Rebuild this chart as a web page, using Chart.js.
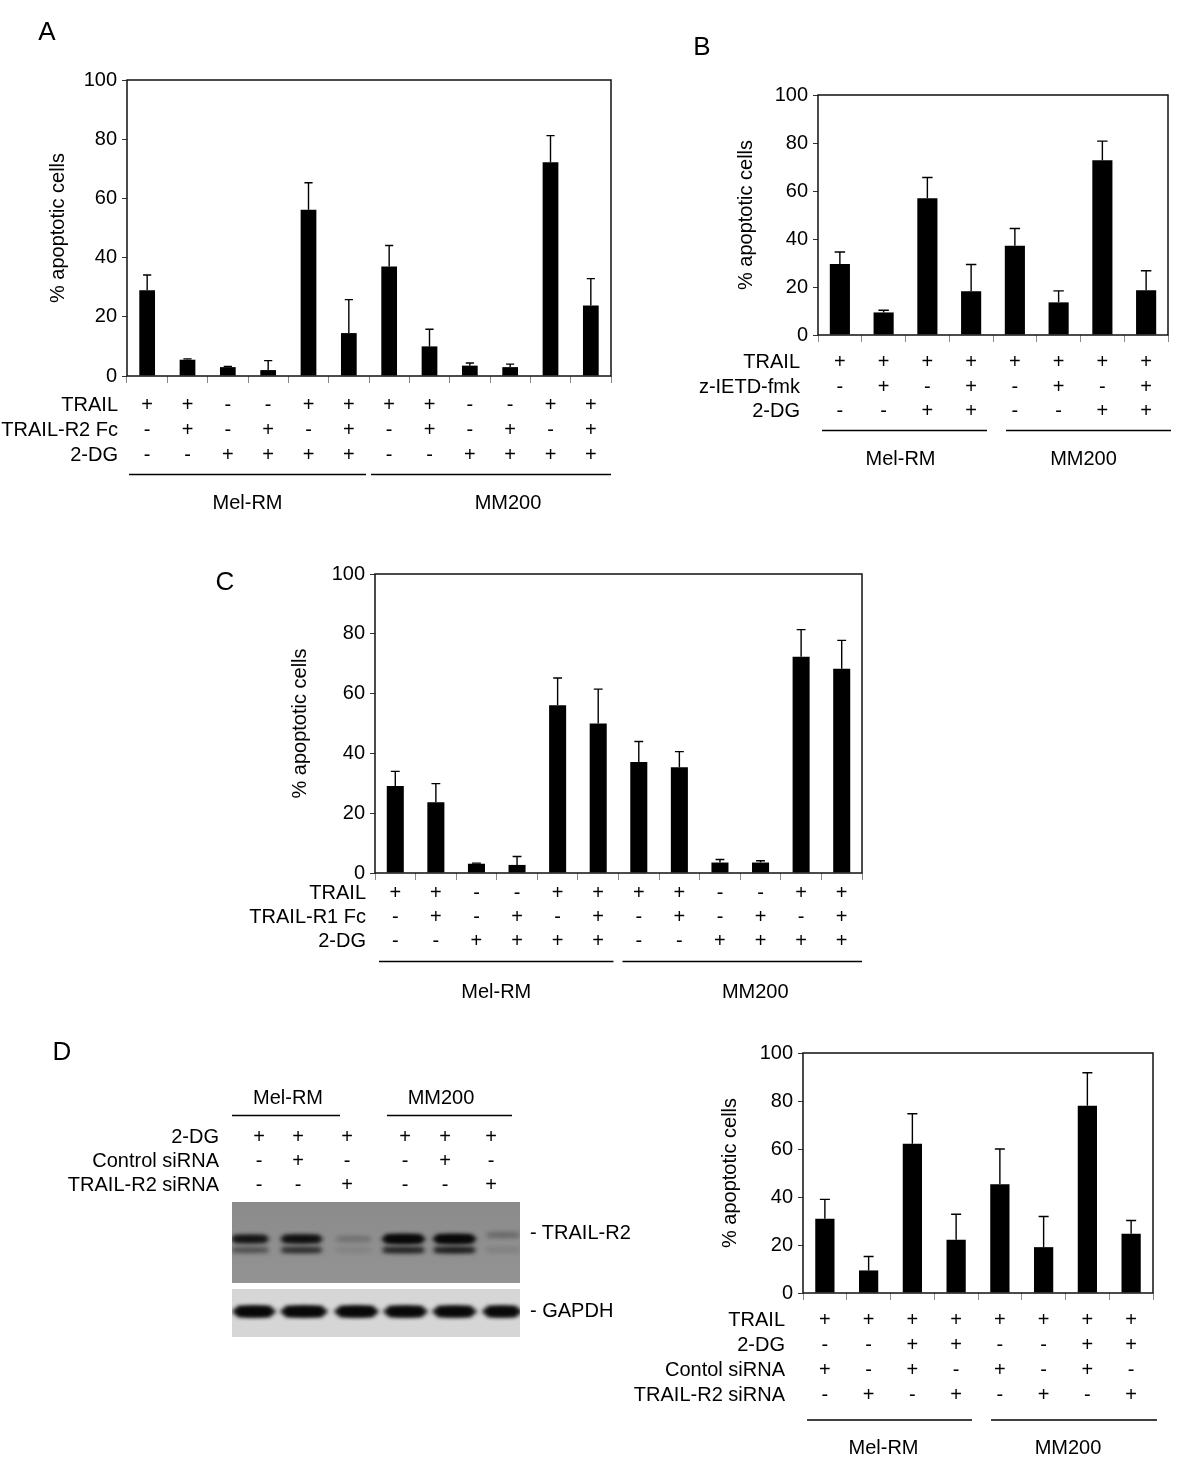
<!DOCTYPE html>
<html><head><meta charset="utf-8">
<script src="https://cdn.jsdelivr.net/npm/chart.js@4.4.1/dist/chart.umd.min.js"></script>
<style>
html,body{margin:0;padding:0;background:#fff;}
#page{position:relative;width:1200px;height:1477px;overflow:hidden;background:#fff;font-family:'Liberation Sans',Arial,sans-serif;color:#000;}
canvas.full{position:absolute;left:0;top:0;}
.t{position:absolute;white-space:nowrap;line-height:1;font-size:20px;}
</style></head><body><div id="page">
<canvas id="blot" class="full" width="1200" height="1477"></canvas>
<canvas id="cA" class="full" width="1200" height="1477"></canvas>
<canvas id="cB" class="full" width="1200" height="1477"></canvas>
<canvas id="cC" class="full" width="1200" height="1477"></canvas>
<canvas id="cD" class="full" width="1200" height="1477"></canvas>
</div>
<script>
// ---------------- DATA ----------------
const yTicks = [0, 20, 40, 60, 80, 100];
const yTitle = '% apoptotic cells';
const cellLines = ['Mel-RM', 'MM200'];

// Panel A
const rowNamesA = ['TRAIL', 'TRAIL-R2 Fc', '2-DG'];
const trailA = ['+','+','-','-','+','+','+','+','-','-','+','+'];
const r2fcA  = ['-','+','-','+','-','+','-','+','-','+','-','+'];
const dgA    = ['-','-','+','+','+','+','-','-','+','+','+','+'];
const meanA  = [29.0, 5.5, 3.0, 2.0, 56.2, 14.5, 37.0, 10.0, 3.5, 3.0, 72.2, 23.8];
const sdA    = [5.1, 0.3, 0.2, 3.2, 9.1, 11.3, 7.1, 5.8, 0.9, 1.0, 9.0, 9.1];

// Panel B
const rowNamesB = ['TRAIL', 'z-IETD-fmk', '2-DG'];
const trailB = ['+','+','+','+','+','+','+','+'];
const ietdB  = ['-','+','-','+','-','+','-','+'];
const dgB    = ['-','-','+','+','-','-','+','+'];
const meanB  = [29.6, 9.4, 57.0, 18.2, 37.2, 13.6, 72.8, 18.6];
const sdB    = [5.0, 0.9, 8.6, 11.2, 7.2, 4.8, 8.0, 8.2];

// Panel C
const rowNamesC = ['TRAIL', 'TRAIL-R1 Fc', '2-DG'];
const trailC = ['+','+','-','-','+','+','+','+','-','-','+','+'];
const r1fcC  = ['-','+','-','+','-','+','-','+','-','+','-','+'];
const dgC    = ['-','-','+','+','+','+','-','-','+','+','+','+'];
const meanC  = [29.1, 23.7, 3.1, 2.7, 56.1, 50.0, 37.1, 35.4, 3.5, 3.5, 72.3, 68.3];
const sdC    = [4.9, 6.2, 0.2, 2.8, 9.1, 11.5, 6.9, 5.2, 1.0, 0.6, 9.1, 9.5];

// Panel D (chart)
const rowNamesD = ['TRAIL', '2-DG', 'Contol siRNA', 'TRAIL-R2 siRNA'];
const trailD = ['+','+','+','+','+','+','+','+'];
const dgD    = ['-','-','+','+','-','-','+','+'];
const ctrlD  = ['+','-','+','-','+','-','+','-'];
const r2siD  = ['-','+','-','+','-','+','-','+'];
const meanD  = [30.9, 9.4, 62.2, 22.2, 45.3, 19.1, 78.0, 24.7];
const sdD    = [8.1, 5.8, 12.5, 10.6, 14.7, 12.8, 13.8, 5.5];

// Panel D (western blot)
const blotRowNames = ['2-DG', 'Control siRNA', 'TRAIL-R2 siRNA'];
const blotDG   = ['+','+','+','+','+','+'];
const blotCtrl = ['-','+','-','-','+','-'];
const blotR2   = ['-','-','+','-','-','+'];
const r2UpperBand = [0.74, 0.82, 0.13, 1.0, 1.0, 0.16];
const r2LowerBand = [0.32, 0.52, 0.05, 0.6, 0.64, 0.07];
const gapdhBand   = [1.0, 1.0, 1.0, 0.97, 0.97, 0.97];
const blotLabels  = ['- TRAIL-R2', '- GAPDH'];

// ---------------- LAYOUT ----------------
const FONT = "'Liberation Sans', Arial, sans-serif";
Chart.defaults.font.family = FONT;
Chart.defaults.color = '#000';
const PAGE_W = 1200, PAGE_H = 1477, X_TICK = 7, X_AXIS_H = 130;

const layouts = {
  A: {area:{l:127,t:80,r:611,b:376}, titleX:58, rowH:25, xPad:10, nameGap:9, barPct:0.39,
      lineY:474.5, labelY:503.5, groups:[{from:0,to:5,inset:[2,3],dx:0},{from:6,to:11,inset:[2,0],dx:17}]},
  B: {area:{l:818,t:95,r:1168,b:335}, titleX:746, rowH:24.5, xPad:8.4, nameGap:18, barPct:0.46,
      lineY:430.5, labelY:459.5, groups:[{from:0,to:3,inset:[4,6],dx:-4},{from:4,to:7,inset:[13,-3],dx:-5}]},
  C: {area:{l:375,t:574,r:862,b:873}, titleX:300, rowH:24.2, xPad:1.2, nameGap:9, barPct:0.42,
      lineY:961.5, labelY:992, groups:[{from:0,to:5,inset:[4,5],dx:0},{from:6,to:11,inset:[4,0],dx:13}]},
  D: {area:{l:803,t:1053,r:1153,b:1293}, titleX:730, rowH:24.8, xPad:8.3, nameGap:18, barPct:0.44,
      lineY:1420, labelY:1448, groups:[{from:0,to:3,inset:[4,6],dx:-6},{from:4,to:7,inset:[13,-4],dx:-6}]}
};

function barChart(canvasId, rows, rowNames, mean, sd, L) {
  const n = rows[0].length;
  const labels = [];
  for (let i = 0; i < n; i++) labels.push(rows.map(r => r[i]));
  const padLeft = L.titleX - 16;
  const deco = {
    id: 'deco',
    afterDatasetsDraw(chart) {
      const ctx = chart.ctx, ca = chart.chartArea, y = chart.scales.y;
      const meta = chart.getDatasetMeta(0);
      ctx.save();
      ctx.strokeStyle = '#000'; ctx.lineWidth = 1.4;
      meta.data.forEach((bar, i) => {
        const top = y.getPixelForValue(mean[i] + sd[i]);
        const half = bar.width * 0.26;
        ctx.beginPath();
        ctx.moveTo(bar.x, bar.y); ctx.lineTo(bar.x, top);
        ctx.moveTo(bar.x - half, top); ctx.lineTo(bar.x + half, top);
        ctx.stroke();
      });
      ctx.lineWidth = 1.5; ctx.strokeStyle = '#111';
      ctx.strokeRect(ca.left, ca.top, ca.right - ca.left, ca.bottom - ca.top);
      ctx.restore();
    },
    afterDraw(chart) {
      const ctx = chart.ctx, ca = chart.chartArea, x = chart.scales.x;
      const cw = (ca.right - ca.left) / n;
      ctx.save();
      ctx.fillStyle = '#000';
      ctx.font = '20px ' + FONT;
      ctx.textAlign = 'right'; ctx.textBaseline = 'middle';
      rowNames.forEach((nm, i) => {
        const yy = ca.bottom + X_TICK + L.xPad + L.rowH * (i + 0.5);
        ctx.fillText(nm, ca.left - L.nameGap, yy);
      });
      ctx.textAlign = 'center';
      ctx.strokeStyle = '#000'; ctx.lineWidth = 1.3;
      L.groups.forEach((g, gi) => {
        const s = x.getPixelForValue(g.from) - cw / 2 + g.inset[0];
        const e = x.getPixelForValue(g.to) + cw / 2 - g.inset[1];
        ctx.beginPath(); ctx.moveTo(s, L.lineY); ctx.lineTo(e, L.lineY); ctx.stroke();
        ctx.fillText(cellLines[gi], (s + e) / 2 + g.dx, L.labelY);
      });
      ctx.restore();
    }
  };
  return new Chart(document.getElementById(canvasId), {
    type: 'bar',
    data: { labels, datasets: [{ data: mean, backgroundColor: '#000', borderWidth: 0,
            barPercentage: L.barPct, categoryPercentage: 1 }] },
    options: {
      responsive: false, devicePixelRatio: 1, animation: false,
      layout: { padding: { left: padLeft, top: L.area.t, right: PAGE_W - L.area.r,
                           bottom: PAGE_H - L.area.b - X_AXIS_H } },
      plugins: { legend: { display: false }, tooltip: { enabled: false } },
      scales: {
        x: {
          ticks: { font: { size: 20, lineHeight: L.rowH / 20 }, color: '#000', padding: L.xPad,
                   maxRotation: 0, minRotation: 0, autoSkip: false },
          grid: { offset: true, drawOnChartArea: false, drawTicks: true, tickLength: X_TICK, color: '#888', lineWidth: 1 },
          border: { display: false },
          afterFit(s) { s.height = X_AXIS_H; }
        },
        y: {
          min: 0, max: 100,
          afterBuildTicks(s) { s.ticks = yTicks.map(v => ({ value: v })); },
          ticks: { font: { size: 20 }, color: '#000', padding: 5 },
          grid: { drawOnChartArea: false, drawTicks: true, tickLength: 5, color: '#333', lineWidth: 1 },
          border: { display: false },
          title: { display: true, text: yTitle, color: '#000', font: { size: 20, lineHeight: 1.2 },
                   padding: { top: 4, bottom: 4 } },
          afterFit(s) { s.width = L.area.l - padLeft; }
        }
      }
    },
    plugins: [deco]
  });
}

barChart('cA', [trailA, r2fcA, dgA], rowNamesA, meanA, sdA, layouts.A);
barChart('cB', [trailB, ietdB, dgB], rowNamesB, meanB, sdB, layouts.B);
barChart('cC', [trailC, r1fcC, dgC], rowNamesC, meanC, sdC, layouts.C);
barChart('cD', [trailD, dgD, ctrlD, r2siD], rowNamesD, meanD, sdD, layouts.D);

// ---------------- HTML TEXT ----------------
const page = document.getElementById('page');
function addText(txt, x, y, align, size) {
  const d = document.createElement('div');
  d.className = 't';
  d.textContent = txt;
  d.style.fontSize = (size || 20) + 'px';
  d.style.top = (y - (size || 20) / 2) + 'px';
  if (align === 'right') { d.style.right = (PAGE_W - x) + 'px'; }
  else if (align === 'center') { d.style.left = x + 'px'; d.style.transform = 'translateX(-50%)'; }
  else { d.style.left = x + 'px'; }
  page.appendChild(d);
}
addText('A', 47, 31, 'center', 26);
addText('B', 702, 46, 'center', 26);
addText('C', 225, 581, 'center', 26);
addText('D', 62, 1051, 'center', 26);

// ---------------- WESTERN BLOT ----------------
const BL = {
  left: 232, right: 520, topPanel: [1202, 1283], botPanel: [1289, 1337],
  r2x: [250, 301.5, 353.5, 403.5, 454.5, 503], r2w: [40, 44, 38, 45, 45, 36],
  gx: [254, 304, 356.5, 405.5, 454.5, 502], gw: [44, 48, 45, 45, 45, 40],
  markX: [259, 298, 347, 405, 445, 491], rowY: [1136, 1160, 1184], nameRight: 219,
  headY: 1097, headX: [288, 441], lineY: 1115.5, lines: [[232, 340], [387, 512]],
  upperY: 1239, lowerY: 1250, gapdhY: 1311.5, labelX: 530, labelY: [1232, 1310]
};
(function drawBlot() {
  const ctx = document.getElementById('blot').getContext('2d');
  let g = ctx.createLinearGradient(0, BL.topPanel[0], 0, BL.topPanel[1]);
  g.addColorStop(0, '#8b8b8b'); g.addColorStop(1, '#939393');
  ctx.fillStyle = g;
  ctx.fillRect(BL.left, BL.topPanel[0], BL.right - BL.left, BL.topPanel[1] - BL.topPanel[0]);
  ctx.fillStyle = '#d6d6d6';
  ctx.fillRect(BL.left, BL.botPanel[0], BL.right - BL.left, BL.botPanel[1] - BL.botPanel[0]);
  function band(cx, w, cy, h, a) {
    ctx.fillStyle = 'rgba(8,8,8,' + a + ')';
    ctx.beginPath();
    ctx.ellipse(cx, cy, w / 2, h / 2, 0, 0, Math.PI * 2);
    ctx.fill();
    ctx.fillRect(cx - w / 2 + h / 2, cy - h / 2, w - h, h);
  }
  ctx.save();
  ctx.beginPath();
  ctx.rect(BL.left, BL.topPanel[0], BL.right - BL.left, BL.botPanel[1] - BL.topPanel[0]);
  ctx.clip();
  ctx.filter = 'blur(2.2px)';
  r2UpperBand.forEach((a, i) => band(BL.r2x[i], BL.r2w[i], BL.upperY - (i === 5 ? 4 : 0), 5 + 3.5 * a, Math.min(1, a)));
  r2LowerBand.forEach((a, i) => band(BL.r2x[i], BL.r2w[i], BL.lowerY, 4.5 + 2 * a, a));
  gapdhBand.forEach((a, i) => band(BL.gx[i], BL.gw[i], BL.gapdhY, 10.5, a));
  ctx.restore();
  ctx.strokeStyle = '#000'; ctx.lineWidth = 1.3;
  BL.lines.forEach(([s, e]) => { ctx.beginPath(); ctx.moveTo(s, BL.lineY); ctx.lineTo(e, BL.lineY); ctx.stroke(); });
})();
cellLines.forEach((nm, i) => addText(nm, BL.headX[i], BL.headY, 'center', 20));
blotRowNames.forEach((nm, i) => addText(nm, BL.nameRight, BL.rowY[i], 'right', 20));
[blotDG, blotCtrl, blotR2].forEach((row, r) => row.forEach((m, i) => addText(m, BL.markX[i], BL.rowY[r], 'center', 20)));
blotLabels.forEach((t, i) => addText(t, BL.labelX, BL.labelY[i], 'left', 20));
</script>
</body></html>
